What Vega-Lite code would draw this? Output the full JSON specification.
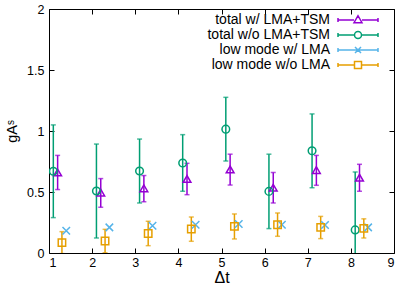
{
  "$schema": "https://vega.github.io/schema/vega-lite/v6.json",
  "width": 345,
  "height": 244,
  "autosize": "none",
  "padding": {"left": 49, "top": 9, "right": 15, "bottom": 33},
  "config": {
    "view": {"stroke": "#000", "strokeWidth": 1},
    "font": "Liberation Sans",
    "axis": {
      "domain": false,
      "grid": false,
      "ticks": true,
      "tickSize": -5,
      "tickColor": "#000",
      "tickWidth": 1,
      "labelColor": "#000",
      "labelFontSize": 12.5,
      "labelFont": "Liberation Sans",
      "titleFont": "Liberation Sans",
      "titleFontWeight": "normal",
      "titleColor": "#000"
    }
  },
  "data": {
    "values": [
      {"s": "total w/ LMA+TSM", "x": 1.2, "y": 0.66, "lo": 0.52, "hi": 0.80},
      {"s": "total w/ LMA+TSM", "x": 2.2, "y": 0.495, "lo": 0.375, "hi": 0.61},
      {"s": "total w/ LMA+TSM", "x": 3.2, "y": 0.53, "lo": 0.42, "hi": 0.635},
      {"s": "total w/ LMA+TSM", "x": 4.2, "y": 0.607, "lo": 0.478, "hi": 0.735},
      {"s": "total w/ LMA+TSM", "x": 5.2, "y": 0.685, "lo": 0.557, "hi": 0.81},
      {"s": "total w/ LMA+TSM", "x": 6.2, "y": 0.535, "lo": 0.41, "hi": 0.66},
      {"s": "total w/ LMA+TSM", "x": 7.2, "y": 0.68, "lo": 0.555, "hi": 0.80},
      {"s": "total w/ LMA+TSM", "x": 8.2, "y": 0.617, "lo": 0.506, "hi": 0.727},
      {"s": "total w/o LMA+TSM", "x": 1.1, "y": 0.67, "lo": 0.29, "hi": 1.05},
      {"s": "total w/o LMA+TSM", "x": 2.1, "y": 0.508, "lo": 0.123, "hi": 0.893},
      {"s": "total w/o LMA+TSM", "x": 3.1, "y": 0.672, "lo": 0.41, "hi": 0.934},
      {"s": "total w/o LMA+TSM", "x": 4.1, "y": 0.738, "lo": 0.506, "hi": 0.97},
      {"s": "total w/o LMA+TSM", "x": 5.1, "y": 1.015, "lo": 0.754, "hi": 1.276},
      {"s": "total w/o LMA+TSM", "x": 6.1, "y": 0.505, "lo": 0.2, "hi": 0.81},
      {"s": "total w/o LMA+TSM", "x": 7.1, "y": 0.838, "lo": 0.535, "hi": 1.14},
      {"s": "total w/o LMA+TSM", "x": 8.1, "y": 0.189, "lo": -0.286, "hi": 0.664},
      {"s": "low mode w/ LMA", "x": 1.4, "y": 0.183, "lo": null, "hi": null},
      {"s": "low mode w/ LMA", "x": 2.4, "y": 0.21, "lo": null, "hi": null},
      {"s": "low mode w/ LMA", "x": 3.4, "y": 0.224, "lo": null, "hi": null},
      {"s": "low mode w/ LMA", "x": 4.4, "y": 0.232, "lo": null, "hi": null},
      {"s": "low mode w/ LMA", "x": 5.4, "y": 0.238, "lo": null, "hi": null},
      {"s": "low mode w/ LMA", "x": 6.4, "y": 0.232, "lo": null, "hi": null},
      {"s": "low mode w/ LMA", "x": 7.4, "y": 0.23, "lo": null, "hi": null},
      {"s": "low mode w/ LMA", "x": 8.4, "y": 0.21, "lo": null, "hi": null},
      {"s": "low mode w/o LMA", "x": 1.3, "y": 0.085, "lo": -0.005, "hi": 0.175},
      {"s": "low mode w/o LMA", "x": 2.3, "y": 0.098, "lo": 0.002, "hi": 0.194},
      {"s": "low mode w/o LMA", "x": 3.3, "y": 0.16, "lo": 0.06, "hi": 0.26},
      {"s": "low mode w/o LMA", "x": 4.3, "y": 0.197, "lo": 0.096, "hi": 0.295},
      {"s": "low mode w/o LMA", "x": 5.3, "y": 0.218, "lo": 0.115, "hi": 0.32},
      {"s": "low mode w/o LMA", "x": 6.3, "y": 0.232, "lo": 0.137, "hi": 0.328},
      {"s": "low mode w/o LMA", "x": 7.3, "y": 0.21, "lo": 0.118, "hi": 0.30},
      {"s": "low mode w/o LMA", "x": 8.3, "y": 0.202, "lo": 0.123, "hi": 0.28}
    ]
  },
  "layer": [
    {
      "transform": [{"filter": "datum.lo != null"}],
      "mark": {"type": "rule", "strokeWidth": 1.5, "clip": true},
      "encoding": {
        "x": {
          "field": "x", "type": "quantitative",
          "scale": {"domain": [1, 9], "nice": false, "zero": false},
          "axis": {"orient": "bottom", "values": [1, 2, 3, 4, 5, 6, 7, 8, 9], "title": "Δt", "titleFontSize": 16, "labelPadding": 8, "titleY": 29, "titleBaseline": "alphabetic"}
        },
        "y": {
          "field": "lo", "type": "quantitative",
          "scale": {"domain": [0, 2], "nice": false},
          "axis": {"orient": "left", "values": [0, 0.5, 1, 1.5, 2], "format": "~g", "title": "gAˢ", "titleFontSize": 14.5, "labelPadding": 10, "titleX": -37, "titleY": 122, "titleAlign": "center", "titleBaseline": "middle", "titleAngle": -90}
        },
        "y2": {"field": "hi"},
        "color": {
          "field": "s", "type": "nominal",
          "scale": {
            "domain": ["total w/ LMA+TSM", "total w/o LMA+TSM", "low mode w/ LMA", "low mode w/o LMA"],
            "range": ["#9400d3", "#009e73", "#56b4e9", "#e69f00"]
          },
          "legend": null
        }
      }
    },
    {
      "transform": [{"filter": "datum.lo != null"}],
      "mark": {"type": "tick", "orient": "horizontal", "size": 5, "thickness": 1.5, "clip": true},
      "encoding": {
        "x": {"field": "x", "type": "quantitative", "axis": null},
        "y": {"field": "lo", "type": "quantitative", "axis": null},
        "color": {
          "field": "s", "type": "nominal",
          "scale": {
            "domain": ["total w/ LMA+TSM", "total w/o LMA+TSM", "low mode w/ LMA", "low mode w/o LMA"],
            "range": ["#9400d3", "#009e73", "#56b4e9", "#e69f00"]
          },
          "legend": null
        }
      }
    },
    {
      "transform": [{"filter": "datum.lo != null"}],
      "mark": {"type": "tick", "orient": "horizontal", "size": 5, "thickness": 1.5, "clip": true},
      "encoding": {
        "x": {"field": "x", "type": "quantitative", "axis": null},
        "y": {"field": "hi", "type": "quantitative", "axis": null},
        "color": {
          "field": "s", "type": "nominal",
          "scale": {
            "domain": ["total w/ LMA+TSM", "total w/o LMA+TSM", "low mode w/ LMA", "low mode w/o LMA"],
            "range": ["#9400d3", "#009e73", "#56b4e9", "#e69f00"]
          },
          "legend": null
        }
      }
    },
    {
      "mark": {"type": "point", "filled": false, "strokeWidth": 1.5, "clip": true, "opacity": 1},
      "encoding": {
        "x": {"field": "x", "type": "quantitative", "axis": {"orient": "top", "values": [1, 2, 3, 4, 5, 6, 7, 8, 9], "labels": false, "title": null}},
        "y": {"field": "y", "type": "quantitative", "axis": {"orient": "right", "values": [0, 0.5, 1, 1.5, 2], "labels": false, "title": null}},
        "color": {
          "field": "s", "type": "nominal",
          "scale": {
            "domain": ["total w/ LMA+TSM", "total w/o LMA+TSM", "low mode w/ LMA", "low mode w/o LMA"],
            "range": ["#9400d3", "#009e73", "#56b4e9", "#e69f00"]
          },
          "legend": null
        },
        "shape": {
          "field": "s", "type": "nominal",
          "scale": {
            "domain": ["total w/ LMA+TSM", "total w/o LMA+TSM", "low mode w/ LMA", "low mode w/o LMA"],
            "range": ["triangle-up", "circle", "M-1,-1L1,1M-1,1L1,-1", "square"]
          },
          "legend": null
        },
        "size": {
          "field": "s", "type": "nominal",
          "scale": {
            "domain": ["total w/ LMA+TSM", "total w/o LMA+TSM", "low mode w/ LMA", "low mode w/o LMA"],
            "range": [60, 55, 60, 64]
          },
          "legend": null
        }
      }
    },
    {
      "transform": [{"filter": "false"}],
      "mark": {"type": "point", "filled": false, "strokeWidth": 1.5, "opacity": 1},
      "encoding": {
        "x": {"field": "x", "type": "quantitative", "axis": null},
        "y": {"field": "y", "type": "quantitative", "axis": null},
        "color": {
          "field": "s", "type": "nominal",
          "scale": {
            "domain": ["total w/ LMA+TSM", "total w/o LMA+TSM", "low mode w/ LMA", "low mode w/o LMA"],
            "range": ["#9400d3", "#009e73", "#56b4e9", "#e69f00"]
          },
          "legend": {
            "orient": "none",
            "legendX": 302,
            "legendY": 4,
            "title": null,
            "padding": 0,
            "labelFontSize": 14,
            "labelFont": "Liberation Sans",
            "labelColor": "#000",
            "labelAlign": "right",
            "labelOffset": -35,
            "labelLimit": 300,
            "symbolSize": 100,
            "symbolStrokeWidth": 1.5,
            "symbolFillColor": "transparent",
            "rowPadding": 1
          }
        },
        "shape": {
          "field": "s", "type": "nominal",
          "scale": {
            "domain": ["total w/ LMA+TSM", "total w/o LMA+TSM", "low mode w/ LMA", "low mode w/o LMA"],
            "range": [
              "M-4,0H-0.8M0.8,0H4M-4,-0.4V0.4M4,-0.4V0.4M-0.8,0.55L0.8,0.55L0,-0.85Z",
              "M-4,0H-0.7M0.7,0H4M-4,-0.4V0.4M4,-0.4V0.4M-0.7,0A0.7,0.7 0 1,0 0.7,0A0.7,0.7 0 1,0 -0.7,0",
              "M-4,0H4M-4,-0.4V0.4M4,-0.4V0.4M-0.6,-0.6L0.6,0.6M-0.6,0.6L0.6,-0.6",
              "M-4,0H-0.7M0.7,0H4M-4,-0.4V0.4M4,-0.4V0.4M-0.7,-0.7H0.7V0.7H-0.7Z"
            ]
          },
          "legend": {
            "orient": "none",
            "legendX": 302,
            "legendY": 4,
            "title": null,
            "padding": 0,
            "labelFontSize": 14,
            "labelFont": "Liberation Sans",
            "labelColor": "#000",
            "labelAlign": "right",
            "labelOffset": -35,
            "labelLimit": 300,
            "symbolSize": 100,
            "symbolStrokeWidth": 1.5,
            "symbolFillColor": "transparent",
            "rowPadding": 1
          }
        }
      }
    }
  ],
  "resolve": {"axis": {"x": "independent", "y": "independent"}, "scale": {"shape": "independent", "color": "independent"}}
}
